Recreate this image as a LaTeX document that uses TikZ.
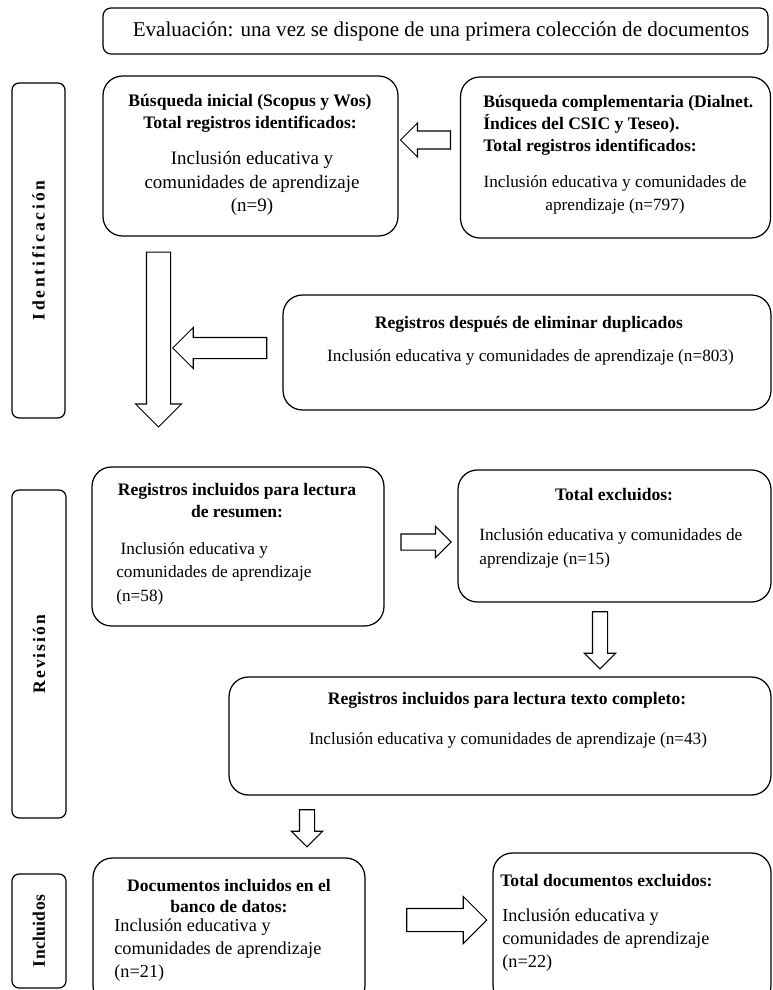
\documentclass[tikz,border=0pt]{standalone}
\usepackage{fontspec}
\setmainfont{Liberation Serif}
\usepackage{tikz}
\usetikzlibrary{shapes.arrows}
\tikzset{box/.style={draw, rounded corners=11pt, line width=0.7pt, inner sep=0pt},
  sidebox/.style={draw, rounded corners=4pt, line width=0.7pt, inner sep=0pt, rotate=90},
  sidetxt/.style={font=\bfseries\fontsize{10}{12}\selectfont},
  headtxt/.style={font=\bfseries\fontsize{10}{12.5}\selectfont, inner sep=0pt},
  bodytxt/.style={font=\fontsize{9.8}{13.3}\selectfont, inner sep=0pt},
  blkarrow/.style={draw, single arrow, line width=0.6pt, inner xsep=0pt, single arrow tip angle=90},
  downarrow/.style={draw, single arrow, line width=0.6pt, inner ysep=0pt, single arrow tip angle=90, shape border rotate=270}}

\begin{document}
\begin{tikzpicture}[x=0.02cm, y=-0.02cm]
    \clip (0,0) rectangle (772,990);
    % boxes
    \node [box, rounded corners=4.5pt, minimum width=13.3cm, minimum height=0.92cm] (b0) at (435.5,31) {};
    \node [box, minimum width=5.9cm, minimum height=3.2cm] (b1) at (250.5,156) {};
    \node [box, minimum width=6.2cm, minimum height=3.22cm] (b2) at (615.5,157.5) {};
    \node [box, minimum width=9.76cm, minimum height=2.3cm] (b3) at (527,352.5) {};
    \node [box, minimum width=5.84cm, minimum height=3.18cm] (b4) at (238,546.5) {};
    \node [box, minimum width=6.26cm, minimum height=2.64cm] (b5) at (614.5,536) {};
    \node [box, minimum width=10.84cm, minimum height=2.36cm] (b6) at (500,736) {};
    \node [box, minimum width=5.44cm, minimum height=2.94cm] (b7) at (229,931.5) {};
    \node [box, minimum width=5.56cm, minimum height=3.04cm] (b8) at (632,929) {};
    % stages
    \node [sidebox, sidetxt, minimum width=6.7cm, minimum height=1.06cm] (sideId) at (38.5,250.5)
      {\addfontfeature{LetterSpace=16}Identificación};
    \node [sidebox, sidetxt, minimum width=6.56cm, minimum height=1.08cm] (sideRev) at (39,654)
      {\addfontfeature{LetterSpace=12}Revisión};
    \node [sidebox, sidetxt, minimum width=2.28cm, minimum height=1.08cm] (sideInc) at (39,931)
      {\addfontfeature{LetterSpace=2}Incluidos};
    % texts
    \node [bodytxt, font=\fontsize{12}{14}\selectfont] (t0) at (441,31)
      {Evaluación: una vez se dispone de una primera colección de documentos};
    \node [headtxt, align=center] (h1) at (250,113)
      {Búsqueda inicial (Scopus y Wos)\\Total registros identificados:};
    \node [bodytxt, font=\fontsize{10.8}{13.3}\selectfont, align=center] (p1) at (252,183.5)
      {Inclusión educativa y\\comunidades de aprendizaje\\(n=9)};
    \node [headtxt, align=left, anchor=west] (h2) at (483,125)
      {Búsqueda complementaria (Dialnet.\\Índices del CSIC y Teseo).\\Total registros identificados:};
    \node [bodytxt, align=center] (p2) at (615,195)
      {Inclusión educativa y comunidades de\\aprendizaje (n=797)};
    \node [headtxt] (h3) at (529,324) {Registros después de eliminar duplicados};
    \node [bodytxt] (p3) at (530.5,357) {Inclusión educativa y comunidades de aprendizaje (n=803)};
    \node [headtxt, align=center] (h4) at (237,501) {Registros incluidos para lectura\\de resumen:};
    \node [bodytxt, align=left, anchor=west] (p4) at (116,573.5)
      {\ Inclusión educativa y\\comunidades de aprendizaje\\(n=58)};
    \node [headtxt] (h5) at (614,495) {Total excluidos:};
    \node [bodytxt, align=left, anchor=west] (p5) at (479,548.5)
      {Inclusión educativa y comunidades de\\aprendizaje (n=15)};
    \node [headtxt] (h6) at (507,700) {Registros incluidos para lectura texto completo:};
    \node [bodytxt] (p6) at (508,740) {Inclusión educativa y comunidades de aprendizaje (n=43)};
    \node [headtxt, align=center] (h7) at (229,896) {Documentos incluidos en el\\banco de datos:};
    \node [bodytxt, font=\fontsize{10.4}{13}\selectfont, align=left, anchor=west] (p7) at (114,950)
      {Inclusión educativa y\\comunidades de aprendizaje\\(n=21)};
    \node [headtxt, anchor=west] (h8) at (500,881) {Total documentos excluidos:};
    \node [bodytxt, font=\fontsize{10.4}{13}\selectfont, align=left, anchor=west] (p8) at (502,940)
      {Inclusión educativa y\\comunidades de aprendizaje\\(n=22)};
    % arrows
    \node [blkarrow, shape border rotate=180, minimum height=1cm, inner ysep=0.17cm, single arrow head extend=0.16cm] (a1) at (430,140) {};
    \node [downarrow, minimum height=3.5cm, inner xsep=0.23cm, single arrow head extend=0.22cm] (a2) at (158.5,333.5) {};
    \node [blkarrow, shape border rotate=180, minimum height=1.88cm, inner ysep=0.2cm, single arrow head extend=0.2cm] (a3) at (225,348) {};
    \node [blkarrow, minimum height=1cm, inner ysep=0.15cm, single arrow head extend=0.15cm] (a4) at (422,542) {};
    \node [downarrow, minimum height=1.14cm, inner xsep=0.14cm, single arrow head extend=0.16cm] (a5) at (600,636.5) {};
    \node [downarrow, minimum height=0.74cm, inner xsep=0.14cm, single arrow head extend=0.16cm] (a6) at (307,824.5) {};
    \node [blkarrow, minimum height=1.6cm, inner ysep=0.22cm, single arrow head extend=0.24cm] (a7) at (441,920) {};
\end{tikzpicture}
\end{document}
